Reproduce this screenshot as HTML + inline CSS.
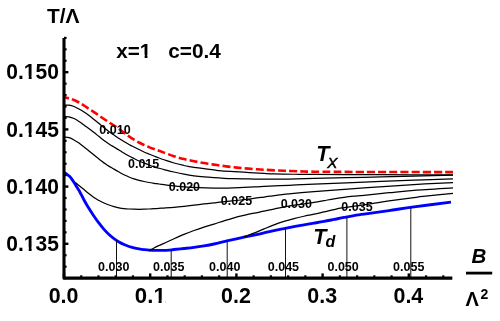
<!DOCTYPE html>
<html><head><meta charset="utf-8"><title>plot</title><style>html,body{margin:0;padding:0;background:#fff}body{width:500px;height:321px;overflow:hidden}</style></head><body>
<svg width="500" height="321" viewBox="0 0 500 321" style="display:block;will-change:transform;font-family:'Liberation Sans',sans-serif">
<rect width="500" height="321" fill="#fff"/>
<path d="M64.50 172.80 C64.92 173.05 66.17 173.71 67.00 174.30 C67.83 174.89 68.67 175.49 69.50 176.33 C70.33 177.17 71.08 178.06 72.00 179.34 C72.92 180.62 74.00 182.39 75.00 183.98 C76.00 185.58 77.17 187.53 78.00 188.90 C78.83 190.28 79.00 190.39 80.00 192.23 C81.00 194.07 82.50 197.22 84.00 199.95 C85.50 202.67 87.33 205.88 89.00 208.60 C90.67 211.31 92.33 213.79 94.00 216.23 C95.67 218.66 97.33 221.01 99.00 223.20 C100.67 225.40 102.33 227.50 104.00 229.38 C105.67 231.26 107.33 232.96 109.00 234.50 C110.67 236.03 112.33 237.37 114.00 238.60 C115.67 239.84 117.33 240.92 119.00 241.90 C120.67 242.88 122.33 243.75 124.00 244.51 C125.67 245.27 127.33 245.93 129.00 246.48 C130.67 247.03 132.33 247.43 134.00 247.81 C135.67 248.20 137.33 248.51 139.00 248.80 C140.67 249.10 142.33 249.37 144.00 249.60 C145.67 249.83 147.33 250.08 149.00 250.20 C150.67 250.32 152.33 250.26 154.00 250.30 C155.67 250.34 157.33 250.42 159.00 250.43 C160.67 250.45 162.33 250.46 164.00 250.40 C165.67 250.33 167.33 250.21 169.00 250.06 C170.67 249.91 171.50 249.78 174.00 249.52 C176.50 249.25 180.67 248.84 184.00 248.47 C187.33 248.11 190.67 247.78 194.00 247.34 C197.33 246.91 200.67 246.41 204.00 245.86 C207.33 245.30 210.67 244.70 214.00 244.01 C217.33 243.31 220.67 242.46 224.00 241.68 C227.33 240.90 230.67 240.10 234.00 239.35 C237.33 238.59 240.67 237.87 244.00 237.17 C247.33 236.47 250.67 235.83 254.00 235.13 C257.33 234.42 260.67 233.68 264.00 232.94 C267.33 232.20 270.67 231.40 274.00 230.68 C277.33 229.96 280.67 229.30 284.00 228.63 C287.33 227.96 290.67 227.29 294.00 226.66 C297.33 226.03 300.67 225.43 304.00 224.85 C307.33 224.27 310.67 223.73 314.00 223.16 C317.33 222.59 320.67 222.04 324.00 221.42 C327.33 220.81 330.67 220.12 334.00 219.46 C337.33 218.79 340.67 218.08 344.00 217.44 C347.33 216.80 350.67 216.15 354.00 215.61 C357.33 215.07 358.17 215.02 364.00 214.18 C369.83 213.34 380.67 211.80 389.00 210.57 C397.33 209.35 403.67 208.25 414.00 206.85 C424.33 205.45 444.83 202.93 451.00 202.15" fill="none" stroke="#0000ff" stroke-width="2.85" stroke-linejoin="round"/>
<path d="M64.50 105.00 C65.25 105.03 67.42 104.94 69.00 105.20 C70.58 105.46 72.33 105.91 74.00 106.54 C75.67 107.16 77.33 108.06 79.00 108.97 C80.67 109.88 82.33 110.91 84.00 112.00 C85.67 113.09 87.33 114.28 89.00 115.52 C90.67 116.77 92.33 118.13 94.00 119.47 C95.67 120.80 97.67 122.43 99.00 123.52 C100.33 124.60 100.67 124.92 102.00 126.00 C103.33 127.08 105.33 128.72 107.00 130.00 C108.67 131.28 110.83 132.84 112.00 133.68 C113.17 134.52 112.83 134.25 114.00 135.04 C115.17 135.84 117.33 137.38 119.00 138.46 C120.67 139.54 122.33 140.54 124.00 141.54 C125.67 142.54 127.33 143.54 129.00 144.46 C130.67 145.37 132.33 146.18 134.00 147.02 C135.67 147.87 137.33 148.70 139.00 149.52 C140.67 150.34 142.33 151.21 144.00 151.96 C145.67 152.71 147.33 153.35 149.00 154.02 C150.67 154.70 152.33 155.35 154.00 156.01 C155.67 156.67 157.33 157.35 159.00 157.97 C160.67 158.59 161.50 158.90 164.00 159.74 C166.50 160.57 170.67 162.02 174.00 162.98 C177.33 163.94 181.50 164.92 184.00 165.51 C186.50 166.10 187.33 166.22 189.00 166.52 C190.67 166.81 191.50 166.93 194.00 167.29 C196.50 167.65 200.67 168.23 204.00 168.67 C207.33 169.11 211.50 169.61 214.00 169.94 C216.50 170.27 217.33 170.46 219.00 170.65 C220.67 170.84 221.50 170.91 224.00 171.07 C226.50 171.23 230.67 171.42 234.00 171.61 C237.33 171.80 240.67 172.00 244.00 172.20 C247.33 172.39 250.67 172.59 254.00 172.80 C257.33 173.01 260.67 173.24 264.00 173.43 C267.33 173.62 269.00 173.81 274.00 173.95 C279.00 174.09 287.33 174.19 294.00 174.25 C300.67 174.31 302.33 174.26 314.00 174.32 C325.67 174.38 347.33 174.52 364.00 174.60 C380.67 174.68 399.17 174.77 414.00 174.80 C428.83 174.83 446.50 174.80 453.00 174.80" fill="none" stroke="#000" stroke-width="1.25"/>
<path d="M64.50 116.50 C65.25 116.55 67.42 116.46 69.00 116.80 C70.58 117.14 72.33 117.75 74.00 118.53 C75.67 119.31 77.33 120.39 79.00 121.47 C80.67 122.54 82.50 123.92 84.00 125.00 C85.50 126.09 86.33 126.73 88.00 127.98 C89.67 129.23 92.17 131.10 94.00 132.52 C95.83 133.94 97.33 135.18 99.00 136.51 C100.67 137.83 102.33 139.23 104.00 140.48 C105.67 141.72 107.33 142.89 109.00 143.98 C110.67 145.07 112.33 146.01 114.00 147.02 C115.67 148.03 117.67 149.21 119.00 150.04 C120.33 150.86 120.33 150.98 122.00 151.98 C123.67 152.97 127.00 154.89 129.00 155.99 C131.00 157.08 132.33 157.71 134.00 158.53 C135.67 159.36 137.33 160.21 139.00 160.96 C140.67 161.71 142.33 162.36 144.00 163.03 C145.67 163.70 147.33 164.37 149.00 165.00 C150.67 165.62 152.33 166.25 154.00 166.80 C155.67 167.34 157.33 167.81 159.00 168.27 C160.67 168.72 161.50 168.90 164.00 169.52 C166.50 170.15 170.67 171.24 174.00 172.01 C177.33 172.79 180.67 173.55 184.00 174.19 C187.33 174.82 190.67 175.38 194.00 175.84 C197.33 176.30 200.67 176.65 204.00 176.96 C207.33 177.27 210.67 177.49 214.00 177.71 C217.33 177.94 220.67 178.13 224.00 178.29 C227.33 178.46 230.67 178.59 234.00 178.70 C237.33 178.80 240.67 178.85 244.00 178.90 C247.33 178.95 250.67 178.97 254.00 179.01 C257.33 179.04 258.17 179.12 264.00 179.12 C269.83 179.12 280.67 179.13 289.00 179.01 C297.33 178.89 301.50 178.70 314.00 178.42 C326.50 178.14 347.33 177.68 364.00 177.31 C380.67 176.94 399.17 176.57 414.00 176.20 C428.83 175.83 446.50 175.28 453.00 175.10" fill="none" stroke="#000" stroke-width="1.25"/>
<path d="M64.50 137.00 C65.25 137.12 67.42 137.21 69.00 137.70 C70.58 138.19 72.33 139.06 74.00 139.95 C75.67 140.85 77.33 141.89 79.00 143.06 C80.67 144.22 82.33 145.63 84.00 146.96 C85.67 148.28 87.33 149.66 89.00 151.00 C90.67 152.34 92.33 153.67 94.00 155.01 C95.67 156.36 96.83 157.40 99.00 159.05 C101.17 160.70 104.50 163.25 107.00 164.92 C109.50 166.59 112.00 167.91 114.00 169.09 C116.00 170.27 117.33 171.04 119.00 171.99 C120.67 172.94 122.33 173.94 124.00 174.77 C125.67 175.61 127.33 176.33 129.00 177.00 C130.67 177.68 132.33 178.26 134.00 178.80 C135.67 179.35 137.33 179.85 139.00 180.30 C140.67 180.75 142.33 181.14 144.00 181.50 C145.67 181.87 147.33 182.20 149.00 182.50 C150.67 182.80 152.33 183.05 154.00 183.30 C155.67 183.55 157.33 183.76 159.00 184.00 C160.67 184.24 162.33 184.50 164.00 184.74 C165.67 184.98 165.67 185.07 169.00 185.44 C172.33 185.80 179.00 186.53 184.00 186.91 C189.00 187.29 194.00 187.53 199.00 187.73 C204.00 187.93 209.83 188.04 214.00 188.10 C218.17 188.16 220.67 188.13 224.00 188.08 C227.33 188.04 230.67 187.92 234.00 187.81 C237.33 187.69 240.67 187.54 244.00 187.39 C247.33 187.24 250.67 187.07 254.00 186.92 C257.33 186.77 258.17 186.77 264.00 186.49 C269.83 186.22 280.67 185.66 289.00 185.26 C297.33 184.85 301.50 184.59 314.00 184.07 C326.50 183.56 347.33 182.80 364.00 182.16 C380.67 181.51 399.17 180.76 414.00 180.20 C428.83 179.64 446.50 179.03 453.00 178.80" fill="none" stroke="#000" stroke-width="1.25"/>
<path d="M75.50 182.50 C76.08 183.00 77.58 184.33 79.00 185.50 C80.42 186.67 82.75 188.51 84.00 189.55 C85.25 190.58 84.83 190.38 86.50 191.71 C88.17 193.03 91.92 196.02 94.00 197.48 C96.08 198.95 97.33 199.59 99.00 200.51 C100.67 201.43 102.33 202.25 104.00 203.00 C105.67 203.75 107.33 204.40 109.00 204.99 C110.67 205.57 112.33 206.06 114.00 206.53 C115.67 206.99 117.33 207.44 119.00 207.78 C120.67 208.13 122.33 208.39 124.00 208.60 C125.67 208.80 127.33 208.90 129.00 209.00 C130.67 209.11 132.33 209.16 134.00 209.21 C135.67 209.26 137.33 209.29 139.00 209.29 C140.67 209.29 142.33 209.25 144.00 209.20 C145.67 209.16 147.33 209.09 149.00 209.00 C150.67 208.91 152.33 208.81 154.00 208.69 C155.67 208.58 157.33 208.42 159.00 208.32 C160.67 208.21 161.50 208.20 164.00 208.04 C166.50 207.88 170.67 207.64 174.00 207.35 C177.33 207.07 180.67 206.71 184.00 206.34 C187.33 205.98 190.67 205.57 194.00 205.17 C197.33 204.78 200.67 204.35 204.00 203.97 C207.33 203.58 211.33 203.16 214.00 202.86 C216.67 202.56 216.33 202.54 220.00 202.15 C223.67 201.75 230.83 201.06 236.00 200.50 C241.17 199.94 246.33 199.36 251.00 198.78 C255.67 198.20 260.83 197.45 264.00 197.02 C267.17 196.58 265.83 196.70 270.00 196.18 C274.17 195.65 281.67 194.63 289.00 193.86 C296.33 193.10 301.50 192.57 314.00 191.57 C326.50 190.57 348.00 188.98 364.00 187.85 C380.00 186.72 395.17 185.68 410.00 184.80 C424.83 183.92 445.83 182.97 453.00 182.60" fill="none" stroke="#000" stroke-width="1.25"/>
<path d="M149.00 251.00 C149.83 250.50 152.33 248.91 154.00 248.00 C155.67 247.09 157.33 246.32 159.00 245.54 C160.67 244.76 161.50 244.45 164.00 243.31 C166.50 242.17 170.67 240.20 174.00 238.71 C177.33 237.22 180.67 235.73 184.00 234.37 C187.33 233.00 190.67 231.72 194.00 230.51 C197.33 229.30 200.67 228.21 204.00 227.13 C207.33 226.06 210.67 225.09 214.00 224.04 C217.33 222.99 220.67 221.85 224.00 220.81 C227.33 219.78 230.67 218.74 234.00 217.83 C237.33 216.93 240.67 216.15 244.00 215.37 C247.33 214.58 250.67 213.84 254.00 213.14 C257.33 212.44 260.67 211.84 264.00 211.16 C267.33 210.49 271.00 209.72 274.00 209.09 C277.00 208.46 278.25 208.09 282.00 207.39 C285.75 206.69 291.17 205.71 296.50 204.89 C301.83 204.07 309.42 203.16 314.00 202.46 C318.58 201.75 320.67 201.27 324.00 200.66 C327.33 200.05 330.67 199.36 334.00 198.82 C337.33 198.27 340.67 197.82 344.00 197.39 C347.33 196.96 350.67 196.59 354.00 196.24 C357.33 195.89 358.17 195.88 364.00 195.29 C369.83 194.70 380.67 193.56 389.00 192.73 C397.33 191.89 403.33 191.10 414.00 190.30 C424.67 189.50 446.50 188.30 453.00 187.90" fill="none" stroke="#000" stroke-width="1.25"/>
<path d="M244.00 236.80 C245.67 236.18 250.67 234.36 254.00 233.05 C257.33 231.74 260.67 230.28 264.00 228.92 C267.33 227.56 270.67 226.15 274.00 224.90 C277.33 223.65 280.67 222.47 284.00 221.42 C287.33 220.37 290.67 219.45 294.00 218.58 C297.33 217.72 300.67 216.97 304.00 216.25 C307.33 215.52 310.67 214.95 314.00 214.23 C317.33 213.51 320.67 212.70 324.00 211.93 C327.33 211.15 331.00 210.24 334.00 209.58 C337.00 208.92 338.17 208.62 342.00 207.99 C345.83 207.35 352.00 206.53 357.00 205.79 C362.00 205.05 366.67 204.36 372.00 203.55 C377.33 202.75 382.00 201.94 389.00 200.94 C396.00 199.95 408.33 198.32 414.00 197.57 C419.67 196.81 416.50 197.09 423.00 196.40 C429.50 195.71 448.00 193.90 453.00 193.40" fill="none" stroke="#000" stroke-width="1.25"/>
<line x1="116.5" y1="240.3" x2="116.5" y2="278.1" stroke="#111" stroke-width="1.0"/>
<line x1="171.2" y1="249.8" x2="171.2" y2="278.1" stroke="#111" stroke-width="1.0"/>
<line x1="227.2" y1="240.9" x2="227.2" y2="278.1" stroke="#111" stroke-width="1.0"/>
<line x1="285.5" y1="228.3" x2="285.5" y2="278.1" stroke="#111" stroke-width="1.0"/>
<line x1="346.9" y1="216.9" x2="346.9" y2="278.1" stroke="#111" stroke-width="1.0"/>
<line x1="410.8" y1="207.3" x2="410.8" y2="278.1" stroke="#111" stroke-width="1.0"/>
<path d="M64.50 97.40 C65.25 97.57 67.42 97.96 69.00 98.40 C70.58 98.84 72.33 99.35 74.00 100.03 C75.67 100.71 77.33 101.58 79.00 102.49 C80.67 103.40 82.33 104.46 84.00 105.50 C85.67 106.55 87.33 107.68 89.00 108.78 C90.67 109.88 92.33 110.98 94.00 112.10 C95.67 113.23 97.33 114.37 99.00 115.51 C100.67 116.66 102.33 117.85 104.00 118.98 C105.67 120.11 107.33 121.20 109.00 122.30 C110.67 123.41 112.33 124.47 114.00 125.59 C115.67 126.71 117.33 127.84 119.00 129.04 C120.67 130.24 122.33 131.56 124.00 132.78 C125.67 134.01 127.33 135.25 129.00 136.39 C130.67 137.52 132.33 138.59 134.00 139.61 C135.67 140.63 137.33 141.60 139.00 142.50 C140.67 143.39 142.33 144.22 144.00 144.99 C145.67 145.76 147.33 146.44 149.00 147.10 C150.67 147.77 152.33 148.39 154.00 149.00 C155.67 149.62 157.33 150.18 159.00 150.78 C160.67 151.38 161.50 151.68 164.00 152.60 C166.50 153.51 170.67 155.17 174.00 156.25 C177.33 157.32 180.67 158.22 184.00 159.05 C187.33 159.88 190.67 160.56 194.00 161.22 C197.33 161.88 200.67 162.44 204.00 163.01 C207.33 163.57 210.67 164.10 214.00 164.61 C217.33 165.13 220.67 165.63 224.00 166.08 C227.33 166.53 230.67 166.93 234.00 167.30 C237.33 167.67 240.67 168.00 244.00 168.30 C247.33 168.60 250.67 168.85 254.00 169.08 C257.33 169.32 259.00 169.43 264.00 169.71 C269.00 170.00 277.33 170.49 284.00 170.79 C290.67 171.09 299.00 171.36 304.00 171.51 C309.00 171.66 304.00 171.61 314.00 171.69 C324.00 171.77 340.83 171.93 364.00 172.00 C387.17 172.07 438.17 172.08 453.00 172.10" fill="none" stroke="#ff0000" stroke-width="2.6" stroke-dasharray="8.0 3.14" stroke-dashoffset="3.5"/>
<path d="M64.0 37.9 L64.0 278.15 L452.3 278.15" fill="none" stroke="#000" stroke-width="3.1" stroke-linejoin="round"/>
<line x1="64.0" y1="278.12" x2="66.6" y2="278.12" stroke="#000" stroke-width="2.2"/>
<line x1="64.0" y1="266.68" x2="66.6" y2="266.68" stroke="#000" stroke-width="2.2"/>
<line x1="64.0" y1="255.24" x2="66.6" y2="255.24" stroke="#000" stroke-width="2.2"/>
<line x1="64.0" y1="243.80" x2="68.4" y2="243.80" stroke="#000" stroke-width="2.4"/>
<line x1="64.0" y1="232.36" x2="66.6" y2="232.36" stroke="#000" stroke-width="2.2"/>
<line x1="64.0" y1="220.92" x2="66.6" y2="220.92" stroke="#000" stroke-width="2.2"/>
<line x1="64.0" y1="209.48" x2="66.6" y2="209.48" stroke="#000" stroke-width="2.2"/>
<line x1="64.0" y1="198.04" x2="66.6" y2="198.04" stroke="#000" stroke-width="2.2"/>
<line x1="64.0" y1="186.60" x2="68.4" y2="186.60" stroke="#000" stroke-width="2.4"/>
<line x1="64.0" y1="175.16" x2="66.6" y2="175.16" stroke="#000" stroke-width="2.2"/>
<line x1="64.0" y1="163.72" x2="66.6" y2="163.72" stroke="#000" stroke-width="2.2"/>
<line x1="64.0" y1="152.28" x2="66.6" y2="152.28" stroke="#000" stroke-width="2.2"/>
<line x1="64.0" y1="140.84" x2="66.6" y2="140.84" stroke="#000" stroke-width="2.2"/>
<line x1="64.0" y1="129.40" x2="68.4" y2="129.40" stroke="#000" stroke-width="2.4"/>
<line x1="64.0" y1="117.96" x2="66.6" y2="117.96" stroke="#000" stroke-width="2.2"/>
<line x1="64.0" y1="106.52" x2="66.6" y2="106.52" stroke="#000" stroke-width="2.2"/>
<line x1="64.0" y1="95.08" x2="66.6" y2="95.08" stroke="#000" stroke-width="2.2"/>
<line x1="64.0" y1="83.64" x2="66.6" y2="83.64" stroke="#000" stroke-width="2.2"/>
<line x1="64.0" y1="72.20" x2="68.4" y2="72.20" stroke="#000" stroke-width="2.4"/>
<line x1="64.0" y1="60.76" x2="66.6" y2="60.76" stroke="#000" stroke-width="2.2"/>
<line x1="64.0" y1="49.32" x2="66.6" y2="49.32" stroke="#000" stroke-width="2.2"/>
<line x1="64.0" y1="37.88" x2="66.6" y2="37.88" stroke="#000" stroke-width="2.2"/>
<line x1="64.00" y1="278.1" x2="64.00" y2="273.4" stroke="#000" stroke-width="2.4"/>
<line x1="81.24" y1="278.1" x2="81.24" y2="275.3" stroke="#000" stroke-width="2.2"/>
<line x1="98.48" y1="278.1" x2="98.48" y2="275.3" stroke="#000" stroke-width="2.2"/>
<line x1="115.72" y1="278.1" x2="115.72" y2="275.3" stroke="#000" stroke-width="2.2"/>
<line x1="132.96" y1="278.1" x2="132.96" y2="275.3" stroke="#000" stroke-width="2.2"/>
<line x1="150.20" y1="278.1" x2="150.20" y2="273.4" stroke="#000" stroke-width="2.4"/>
<line x1="167.44" y1="278.1" x2="167.44" y2="275.3" stroke="#000" stroke-width="2.2"/>
<line x1="184.68" y1="278.1" x2="184.68" y2="275.3" stroke="#000" stroke-width="2.2"/>
<line x1="201.92" y1="278.1" x2="201.92" y2="275.3" stroke="#000" stroke-width="2.2"/>
<line x1="219.16" y1="278.1" x2="219.16" y2="275.3" stroke="#000" stroke-width="2.2"/>
<line x1="236.40" y1="278.1" x2="236.40" y2="273.4" stroke="#000" stroke-width="2.4"/>
<line x1="253.64" y1="278.1" x2="253.64" y2="275.3" stroke="#000" stroke-width="2.2"/>
<line x1="270.88" y1="278.1" x2="270.88" y2="275.3" stroke="#000" stroke-width="2.2"/>
<line x1="288.12" y1="278.1" x2="288.12" y2="275.3" stroke="#000" stroke-width="2.2"/>
<line x1="305.36" y1="278.1" x2="305.36" y2="275.3" stroke="#000" stroke-width="2.2"/>
<line x1="322.60" y1="278.1" x2="322.60" y2="273.4" stroke="#000" stroke-width="2.4"/>
<line x1="339.84" y1="278.1" x2="339.84" y2="275.3" stroke="#000" stroke-width="2.2"/>
<line x1="357.08" y1="278.1" x2="357.08" y2="275.3" stroke="#000" stroke-width="2.2"/>
<line x1="374.32" y1="278.1" x2="374.32" y2="275.3" stroke="#000" stroke-width="2.2"/>
<line x1="391.56" y1="278.1" x2="391.56" y2="275.3" stroke="#000" stroke-width="2.2"/>
<line x1="408.80" y1="278.1" x2="408.80" y2="273.4" stroke="#000" stroke-width="2.4"/>
<line x1="426.04" y1="278.1" x2="426.04" y2="275.3" stroke="#000" stroke-width="2.2"/>
<line x1="443.28" y1="278.1" x2="443.28" y2="275.3" stroke="#000" stroke-width="2.2"/>
<text x="58.9" y="79.4" text-anchor="end" font-size="22" font-weight="bold" textLength="52.6" lengthAdjust="spacingAndGlyphs">0.150</text>
<text x="58.9" y="136.6" text-anchor="end" font-size="22" font-weight="bold" textLength="52.6" lengthAdjust="spacingAndGlyphs">0.145</text>
<text x="58.9" y="193.8" text-anchor="end" font-size="22" font-weight="bold" textLength="52.6" lengthAdjust="spacingAndGlyphs">0.140</text>
<text x="58.9" y="251.0" text-anchor="end" font-size="22" font-weight="bold" textLength="52.6" lengthAdjust="spacingAndGlyphs">0.135</text>
<text x="63.6" y="303.2" text-anchor="middle" font-size="22" font-weight="bold" textLength="29.8" lengthAdjust="spacingAndGlyphs">0.0</text>
<text x="150.3" y="303.2" text-anchor="middle" font-size="22" font-weight="bold" textLength="30.9" lengthAdjust="spacingAndGlyphs">0.1</text>
<text x="236.0" y="303.2" text-anchor="middle" font-size="22" font-weight="bold" textLength="29.8" lengthAdjust="spacingAndGlyphs">0.2</text>
<text x="322.2" y="303.2" text-anchor="middle" font-size="22" font-weight="bold" textLength="29.8" lengthAdjust="spacingAndGlyphs">0.3</text>
<text x="408.4" y="303.2" text-anchor="middle" font-size="22" font-weight="bold" textLength="29.8" lengthAdjust="spacingAndGlyphs">0.4</text>
<text x="115.00" y="134.2" text-anchor="middle" font-size="12.5" font-weight="bold">0.010</text>
<text x="143.60" y="168.0" text-anchor="middle" font-size="12.5" font-weight="bold">0.015</text>
<text x="184.40" y="191.1" text-anchor="middle" font-size="12.5" font-weight="bold">0.020</text>
<text x="236.50" y="205.0" text-anchor="middle" font-size="12.5" font-weight="bold">0.025</text>
<text x="296.30" y="208.2" text-anchor="middle" font-size="12.5" font-weight="bold">0.030</text>
<text x="357.00" y="210.6" text-anchor="middle" font-size="12.5" font-weight="bold">0.035</text>
<text x="113.75" y="271.3" text-anchor="middle" font-size="12.5" font-weight="bold">0.030</text>
<text x="168.75" y="271.3" text-anchor="middle" font-size="12.5" font-weight="bold">0.035</text>
<text x="224.75" y="271.3" text-anchor="middle" font-size="12.5" font-weight="bold">0.040</text>
<text x="283.40" y="271.3" text-anchor="middle" font-size="12.5" font-weight="bold">0.045</text>
<text x="343.10" y="271.3" text-anchor="middle" font-size="12.5" font-weight="bold">0.050</text>
<text x="408.75" y="271.3" text-anchor="middle" font-size="12.5" font-weight="bold">0.055</text>
<text x="47" y="23.4" font-size="20.5" font-weight="bold" textLength="32.5" lengthAdjust="spacingAndGlyphs">T/Λ</text>
<text x="116.3" y="58" font-size="19.5" font-weight="bold" textLength="35" lengthAdjust="spacingAndGlyphs">x=1</text>
<text x="168.3" y="58" font-size="19.5" font-weight="bold" textLength="52.6" lengthAdjust="spacingAndGlyphs">c=0.4</text>
<text x="316.3" y="161.3" font-size="21.5" font-weight="bold" font-style="italic">T</text>
<text x="327.3" y="167.5" font-size="15.2" font-style="italic" stroke="#000" stroke-width="0.5">X</text>
<text x="313.3" y="243.5" font-size="21.5" font-weight="bold" font-style="italic">T</text>
<text x="325.6" y="246.8" font-size="16" font-style="italic" font-weight="bold">d</text>
<text x="471.4" y="263.1" font-size="20.5" font-weight="bold" font-style="italic">B</text>
<line x1="466" y1="273.1" x2="492.2" y2="273.1" stroke="#000" stroke-width="2.8"/>
<text x="465.6" y="306.4" font-size="20" font-weight="bold">Λ</text>
<text x="480.6" y="299.2" font-size="14" font-weight="bold">2</text>
<!--WF-->
<rect class="wf" x="24.85" y="75.85" width="3.88" height="4.15" fill="#fff"/>
<rect class="wf" x="31.62" y="75.85" width="3.61" height="4.15" fill="#fff"/>
<rect class="wf" x="24.85" y="133.05" width="3.88" height="4.15" fill="#fff"/>
<rect class="wf" x="31.62" y="133.05" width="3.61" height="4.15" fill="#fff"/>
<rect class="wf" x="24.85" y="190.25" width="3.88" height="4.15" fill="#fff"/>
<rect class="wf" x="31.62" y="190.25" width="3.61" height="4.15" fill="#fff"/>
<rect class="wf" x="24.85" y="247.45" width="3.88" height="4.15" fill="#fff"/>
<rect class="wf" x="31.62" y="247.45" width="3.61" height="4.15" fill="#fff"/>
<rect class="wf" x="154.46" y="299.65" width="4.11" height="4.15" fill="#fff"/>
<rect class="wf" x="161.62" y="299.65" width="3.81" height="4.15" fill="#fff"/>
<rect class="wf" x="140.82" y="54.71" width="3.81" height="3.89" fill="#fff"/>
<rect class="wf" x="147.47" y="54.71" width="3.54" height="3.89" fill="#fff"/>

</svg>
</body></html>
